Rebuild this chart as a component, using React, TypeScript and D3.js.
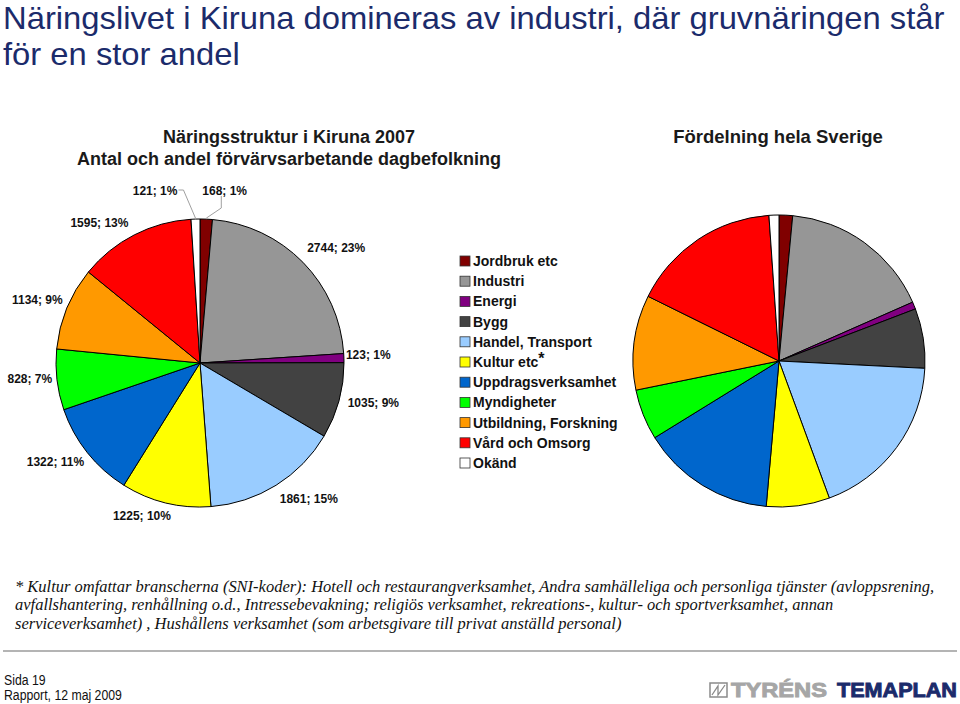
import React, { useEffect, useRef } from "react";
import * as d3 from "d3";

// sectors, same order in both pies and the legend
const categories = [
  "Jordbruk etc",
  "Industri",
  "Energi",
  "Bygg",
  "Handel, Transport",
  "Kultur etc",
  "Uppdragsverksamhet",
  "Myndigheter",
  "Utbildning, Forskning",
  "Vård och Omsorg",
  "Okänd",
];
const colors = [
  "#800000",
  "#969696",
  "#800080",
  "#424242",
  "#99ccff",
  "#ffff00",
  "#0066cc",
  "#00ff00",
  "#ff9900",
  "#ff0000",
  "#ffffff",
];

// Kiruna 2007, antal förvärvsarbetande dagbefolkning
const kirunaCount = [168, 2744, 123, 1035, 1861, 1225, 1322, 828, 1134, 1595, 121];
// hela Sverige, andel (%)
const swedenShare = [1.5, 16.9, 0.8, 6.6, 18.6, 7.0, 14.8, 5.6, 10.5, 16.6, 1.1];

const mainTitle = ["Näringslivet i Kiruna domineras av industri, där gruvnäringen står", "för en stor andel"];
const leftTitle = ["Näringsstruktur i Kiruna 2007", "Antal och andel förvärvsarbetande dagbefolkning"];
const rightTitle = "Fördelning hela Sverige";
const footnote = [
  "* Kultur omfattar branscherna (SNI-koder): Hotell och restaurangverksamhet, Andra samhälleliga och personliga tjänster (avloppsrening,",
  "avfallshantering, renhållning o.d., Intressebevakning; religiös verksamhet, rekreations-, kultur- och sportverksamhet, annan",
  "serviceverksamhet) , Hushållens verksamhet (som arbetsgivare till privat anställd personal)",
];
const footer = ["Sida 19", "Rapport, 12 maj 2009"];

// Excel's "best fit" moves some data labels sideways; small pixel nudges per slice
const labelNudge: [number, number][] = [
  [0, 0],
  [4, -1],
  [-10, -3],
  [-2, -3],
  [11, -3],
  [-14, -6],
  [0, -3],
  [7, -3],
  [5, -1],
  [-16, 5],
  [0, 0],
];

const App = () => {
  const svgRef = useRef<SVGSVGElement>(null);

  useEffect(() => {
    const width = 960;
    const height = 704;
    const svg = d3.select(svgRef.current).attr("width", width).attr("height", height);
    svg.selectAll("*").remove();
    svg.append("rect").attr("width", width).attr("height", height).attr("fill", "#fff");

    const sans = "'Liberation Sans', Arial, sans-serif";
    const navy = "#1b2b6b";

    // squeeze text horizontally so it matches a narrow font
    const squeeze = (sel: any, x: number, target: number) => {
      const w = (sel.node() as SVGTextElement).getComputedTextLength();
      const k = target / w;
      sel.attr("transform", `translate(${x},0) scale(${k},1)`).attr("x", 0);
      return k;
    };

    // main title
    const t1 = svg.append("text").attr("y", 29).attr("font-family", sans).attr("font-size", 32).attr("fill", navy).text(mainTitle[0]);
    const k = squeeze(t1, 3, 942);
    svg
      .append("text")
      .attr("y", 65)
      .attr("font-family", sans)
      .attr("font-size", 32)
      .attr("fill", navy)
      .attr("transform", `translate(3,0) scale(${k},1)`)
      .text(mainTitle[1]);

    // chart titles
    leftTitle.forEach((t, i) => {
      svg
        .append("text")
        .attr("x", 289)
        .attr("y", 143 + i * 22)
        .attr("text-anchor", "middle")
        .attr("font-family", sans)
        .attr("font-size", 18)
        .attr("font-weight", "bold")
        .attr("fill", "#1a1a1a")
        .text(t);
    });
    svg
      .append("text")
      .attr("x", 778)
      .attr("y", 143)
      .attr("text-anchor", "middle")
      .attr("font-family", sans)
      .attr("font-size", 18.5)
      .attr("font-weight", "bold")
      .attr("fill", "#1a1a1a")
      .text(rightTitle);

    const pie = d3
      .pie<number>()
      .sort(null)
      .value((d) => d);

    // left pie: Kiruna
    const r = 144;
    const cx = 200;
    const cy = 363;
    const arc = d3.arc<any>().innerRadius(0).outerRadius(r);
    const gL = svg.append("g").attr("transform", `translate(${cx},${cy})`);
    const arcsL = pie(kirunaCount);
    gL.selectAll("path")
      .data(arcsL)
      .join("path")
      .attr("d", arc)
      .attr("fill", (d, i) => colors[i])
      .attr("stroke", "#000")
      .attr("stroke-width", 1);

    const total = d3.sum(kirunaCount);
    const labelText = (v: number) => `${v}; ${Math.round((v / total) * 100)}%`;
    const last = kirunaCount.length - 1;

    arcsL.forEach((d, i) => {
      const a = (d.startAngle + d.endAngle) / 2;
      const s = Math.sin(a);
      const c = -Math.cos(a);
      const label = gL
        .append("text")
        .attr("font-family", sans)
        .attr("font-size", 12)
        .attr("font-weight", "bold")
        .attr("fill", "#111")
        .attr("dy", "0.35em")
        .text(labelText(kirunaCount[i]));

      if (i === 0 || i === last) {
        // small slices at the top: labels lifted above the pie with leader lines
        const ox = s * (r + 1);
        const oy = c * (r + 1);
        const ly = -r - 28;
        let pts: [number, number][];
        if (i === last) {
          const lx = ox - 18;
          label.attr("x", lx).attr("y", ly).attr("text-anchor", "end");
          pts = [[lx + 1, ly - 1], [lx + 6, ly - 1], [ox, oy]];
        } else {
          const lx = ox - 4;
          label.attr("x", lx).attr("y", ly).attr("text-anchor", "start");
          pts = [[lx + 19, ly + 5], [lx + 19, ly + 17], [ox, oy]];
        }
        gL.append("path")
          .attr("d", d3.line()(pts))
          .attr("fill", "none")
          .attr("stroke", "#a0a0a0")
          .attr("stroke-width", 1);
        return;
      }
      const w = (label.node() as SVGTextElement).getComputedTextLength();
      const gap = 12;
      const x = s * (r + gap) + (s * w) / 2 + labelNudge[i][0];
      const y = c * (r + gap) + c * 7 + labelNudge[i][1];
      label.attr("x", x).attr("y", y).attr("text-anchor", "middle");
    });

    // right pie: Sverige
    const r2 = 146;
    const gR = svg.append("g").attr("transform", `translate(779,361)`);
    const arc2 = d3.arc<any>().innerRadius(0).outerRadius(r2);
    gR.selectAll("path")
      .data(pie(swedenShare))
      .join("path")
      .attr("d", arc2)
      .attr("fill", (d, i) => colors[i])
      .attr("stroke", "#000")
      .attr("stroke-width", 1);

    // legend
    const legend = svg.append("g").attr("transform", "translate(460,261)");
    categories.forEach((name, i) => {
      const row = legend.append("g").attr("transform", `translate(0,${i * 20.2})`);
      row.append("rect")
        .attr("x", 0)
        .attr("y", -5)
        .attr("width", 10)
        .attr("height", 10)
        .attr("fill", colors[i])
        .attr("stroke", "#333")
        .attr("stroke-width", 0.8);
      const t = row.append("text")
        .attr("x", 13)
        .attr("dy", "0.36em")
        .attr("font-family", sans)
        .attr("font-size", 14)
        .attr("font-weight", "bold")
        .attr("fill", "#111")
        .text(name);
      if (name === "Kultur etc") {
        t.append("tspan").attr("dy", -3).attr("font-size", 16).text("*");
      }
    });

    // footnote
    const serif = "'Liberation Serif', 'Times New Roman', serif";
    const fn = footnote.map((line, i) =>
      svg
        .append("text")
        .attr("y", 592 + i * 18.5)
        .attr("font-family", serif)
        .attr("font-style", "italic")
        .attr("font-size", 16.5)
        .attr("fill", "#111")
        .text(line)
    );
    const fk = squeeze(fn[0], 15, 920);
    fn.slice(1).forEach((t) => t.attr("transform", `translate(15,0) scale(${fk},1)`));

    // footer
    svg.append("line")
      .attr("x1", 3)
      .attr("x2", 957)
      .attr("y1", 651)
      .attr("y2", 651)
      .attr("stroke", "#b4b4b4")
      .attr("stroke-width", 2);
    const ft = footer.map((line, i) =>
      svg
        .append("text")
        .attr("y", 685 + i * 15.5)
        .attr("font-family", sans)
        .attr("font-size", 15)
        .attr("fill", "#111")
        .text(line)
    );
    const k2 = squeeze(ft[1], 4, 118);
    ft[0].attr("transform", `translate(4,0) scale(${k2},1)`);

    // logo
    const logo = svg.append("g");
    logo.append("rect")
      .attr("x", 710)
      .attr("y", 683)
      .attr("width", 17)
      .attr("height", 14)
      .attr("fill", "none")
      .attr("stroke", "#8a8a8a")
      .attr("stroke-width", 1.5);
    logo.append("path")
      .attr("d", "M712,695 L718,686 L718,695 L725,685")
      .attr("fill", "none")
      .attr("stroke", "#8a8a8a")
      .attr("stroke-width", 1.3);
    const ty = logo.append("text")
      .attr("y", 697)
      .attr("font-family", sans)
      .attr("font-size", 20)
      .attr("font-weight", "bold")
      .attr("fill", "#a6a6a6")
      .attr("stroke", "#a6a6a6")
      .attr("stroke-width", 0.9)
      .text("TYRÉNS");
    squeeze(ty, 731, 96);
    const tm = logo.append("text")
      .attr("y", 697)
      .attr("font-family", sans)
      .attr("font-size", 20)
      .attr("font-weight", "bold")
      .attr("fill", navy)
      .attr("stroke", navy)
      .attr("stroke-width", 0.9)
      .text("TEMAPLAN");
    squeeze(tm, 837, 120);
  }, []);

  return <svg ref={svgRef} style={{ position: "absolute", left: 0, top: 0 }}></svg>;
};

export default App;
